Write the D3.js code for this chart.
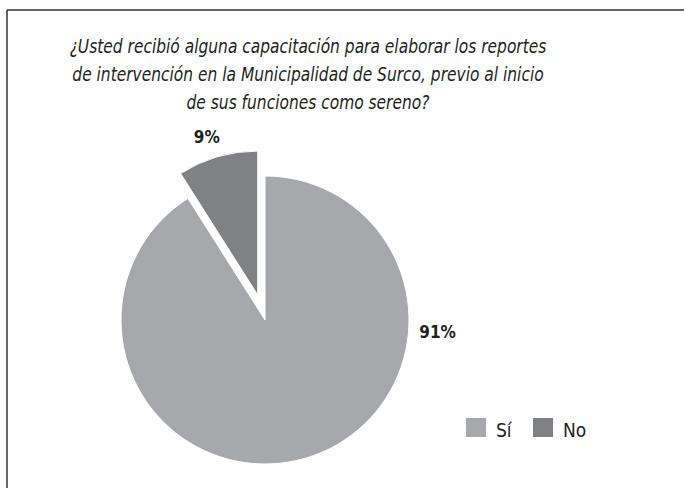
<!DOCTYPE html>
<html lang="es">
<head>
<meta charset="UTF-8">
<title>Capacitación serenos</title>
<style>
    body { margin: 0; background: #fff; }
    text { font-family: "DejaVu Sans Condensed", "Liberation Sans Narrow", sans-serif; fill: #231f20; }
    .title { font-style: italic; font-size: 19px; }
    .pct { font-weight: bold; font-size: 17px; }
    .legend text { font-size: 19px; }
</style>
</head>
<body>
<svg id="chart" width="684" height="488"></svg>
<script src="https://d3js.org/d3.v7.min.js"></script>
<script>
    // data
    const categories = ["Sí", "No"];
    const values = [91, 9];
    const pctLabels = ["91%", "9%"];
    const colors = ["#a7a8ac", "#808185"];
    const titleLines = [
        "¿Usted recibió alguna capacitación para elaborar los reportes",
        "de intervención en la Municipalidad de Surco, previo al inicio",
        "de sus funciones como sereno?"
    ];

    const svg = d3.select("#chart");

    // frame (only top and left edges visible)
    svg.append("line").attr("x1", 7).attr("y1", 10).attr("x2", 684).attr("y2", 10)
        .attr("stroke", "#333").attr("stroke-width", 1.5);
    svg.append("line").attr("x1", 7).attr("y1", 10).attr("x2", 7).attr("y2", 488)
        .attr("stroke", "#333").attr("stroke-width", 1.5);

    // squeeze the title a bit, the original face is narrower
    svg.append("g")
        .attr("transform", "translate(308,0) scale(0.905,1)")
        .selectAll("text")
        .data(titleLines)
        .join("text")
        .attr("class", "title")
        .attr("x", 0)
        .attr("y", (d, i) => 53 + i * 28)
        .attr("text-anchor", "middle")
        .text(d => d);

    const cx = 265, cy = 320, r = 144;
    const explode = 26;

    const pie = d3.pie().sort(null).value(d => d.value);
    const arcs = pie(categories.map((c, i) => ({ cat: c, value: values[i], i: i })));
    const arc = d3.arc().innerRadius(0).outerRadius(r);

    const g = svg.append("g").attr("transform", "translate(" + cx + "," + cy + ")");

    function offset(d) {
        if (d.data.i !== 1) return [0, 0];
        const a = (d.startAngle + d.endAngle) / 2;
        return [Math.sin(a) * explode, -Math.cos(a) * explode];
    }

    g.selectAll("path")
        .data(arcs)
        .join("path")
        .attr("d", arc)
        .attr("fill", d => colors[d.data.i])
        .attr("stroke", "#fff")
        .attr("stroke-width", 1)
        .attr("transform", d => "translate(" + offset(d) + ")");

    // label placement: angle (radians from top, clockwise) and radius
    const labelPlace = [[Math.PI * 0.523, 173], [-Math.PI * 0.098, 192]];
    g.selectAll("text.pct")
        .data(arcs)
        .join("text")
        .attr("class", "pct")
        .attr("text-anchor", "middle")
        .attr("x", d => Math.sin(labelPlace[d.data.i][0]) * labelPlace[d.data.i][1])
        .attr("y", d => -Math.cos(labelPlace[d.data.i][0]) * labelPlace[d.data.i][1] + 6)
        .text(d => pctLabels[d.data.i]);

    const legend = svg.append("g").attr("class", "legend");
    const lx = d3.scaleOrdinal().domain(categories).range([466, 533]);
    const items = legend.selectAll("g")
        .data(categories)
        .join("g")
        .attr("transform", d => "translate(" + lx(d) + ",418)");
    items.append("rect").attr("width", 20).attr("height", 19)
        .attr("fill", (d, i) => colors[i]);
    items.append("text").attr("x", 30).attr("y", 19).text(d => d);
</script>
</body>
</html>
